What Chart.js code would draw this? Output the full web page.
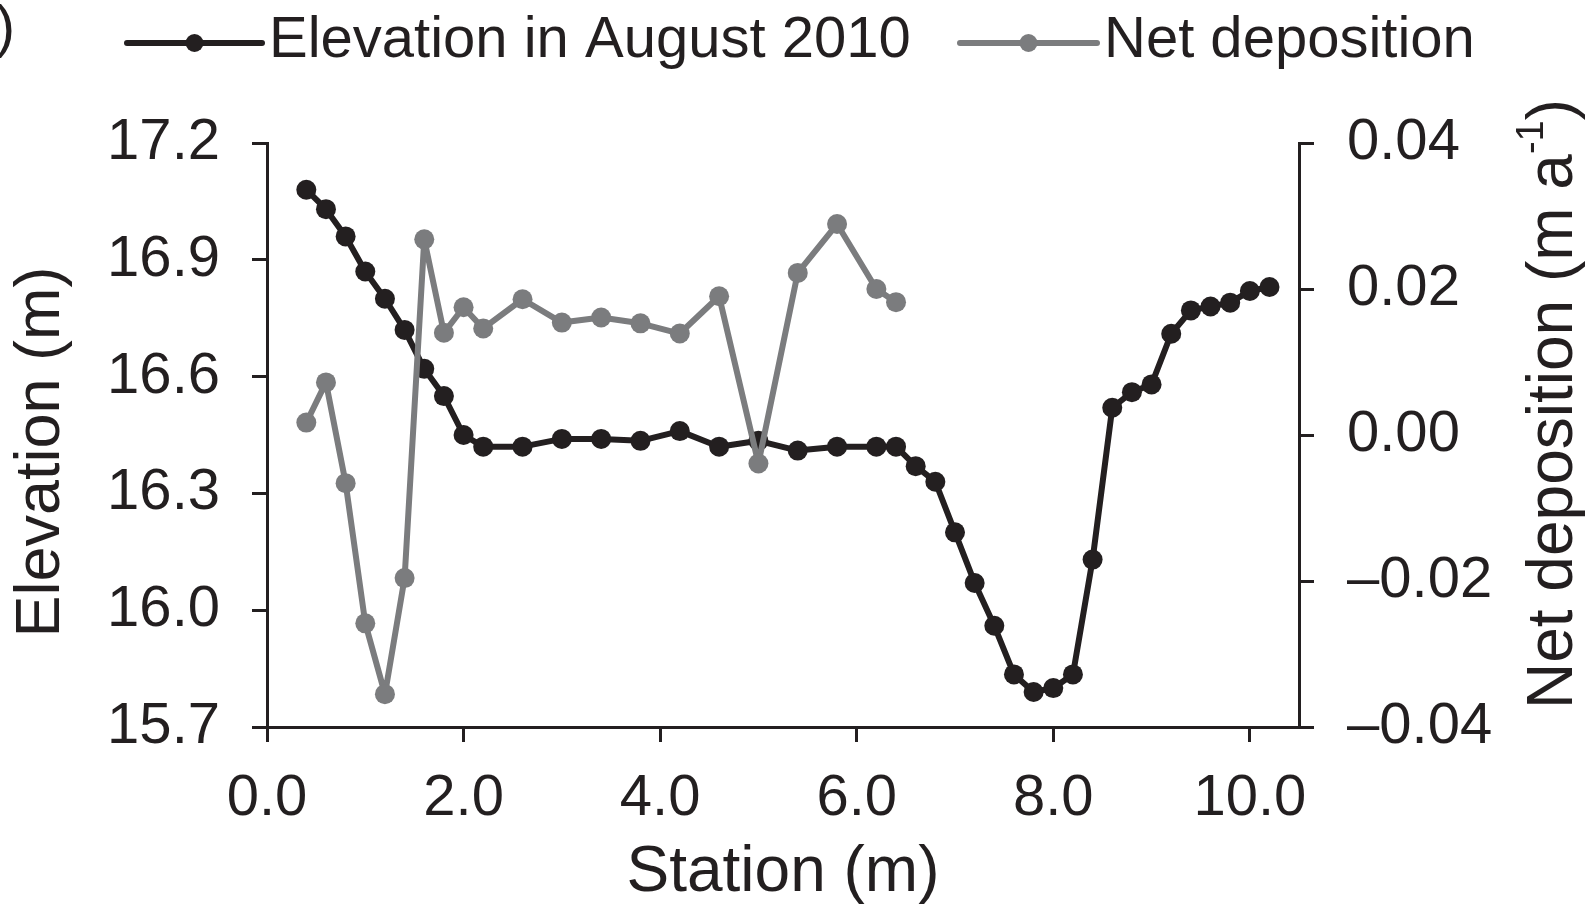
<!DOCTYPE html>
<html>
<head>
<meta charset="utf-8">
<script src="https://cdn.jsdelivr.net/npm/chart.js@4.4.0/dist/chart.umd.min.js"></script>
<style>
  html, body { margin: 0; padding: 0; background: #fff; }
</style>
</head>
<body>
<canvas id="myChart" width="1593" height="909"></canvas>
<script>
// profile stations (m)
const stations = [0.4, 0.6, 0.8, 1.0, 1.2, 1.4, 1.6, 1.8, 2.0, 2.2, 2.6, 3.0, 3.4, 3.8, 4.2, 4.6, 5.0, 5.4, 5.8, 6.2,
    6.4, 6.6, 6.8, 7.0, 7.2, 7.4, 7.6, 7.8, 8.0, 8.2, 8.4, 8.6, 8.8, 9.0, 9.2, 9.4, 9.6, 9.8, 10.0, 10.2];
// elevation in August 2010 (m)
const elevation = [17.08, 17.03, 16.96, 16.87, 16.80, 16.72, 16.62, 16.55, 16.45, 16.42, 16.42, 16.44, 16.44, 16.435,
    16.46, 16.42, 16.435, 16.41, 16.42, 16.42, 16.42, 16.37, 16.33, 16.20, 16.07, 15.96, 15.835, 15.79, 15.80, 15.835,
    16.13, 16.52, 16.56, 16.58, 16.71, 16.77, 16.78, 16.79, 16.82, 16.83];
// net deposition only measured up to 6.4 m
const depStations = [0.4, 0.6, 0.8, 1.0, 1.2, 1.4, 1.6, 1.8, 2.0, 2.2, 2.6, 3.0, 3.4, 3.8, 4.2, 4.6, 5.0, 5.4, 5.8, 6.2, 6.4];
const deposition = [0.0017, 0.0072, -0.0066, -0.0258, -0.0355, -0.0196, 0.0268, 0.0140, 0.0175, 0.0146, 0.0186,
    0.0154, 0.0161, 0.0153, 0.0139, 0.0190, -0.0039, 0.0222, 0.0289, 0.0200, 0.0182];

const xTicks = [0, 2, 4, 6, 8, 10];
const elevTicks = [15.7, 16.0, 16.3, 16.6, 16.9, 17.2];
const depTicks = [-0.04, -0.02, 0.00, 0.02, 0.04];

const ink = '#231f20';
const grey = '#7b7c7e';
const fam = '"Liberation Sans", Arial, sans-serif';

const axisGrid = { drawOnChartArea: false, drawTicks: true, tickLength: 15, color: ink, lineWidth: 3 };
const axisBorder = { display: true, color: ink, width: 3 };

// legend with line + dot, the odd ")" left from the panel label, vertical axis titles
const extras = {
    id: 'extras',
    afterDraw(chart) {
        const ctx = chart.ctx;
        ctx.save();
        ctx.fillStyle = ink;
        ctx.textBaseline = 'middle';
        ctx.font = '58px ' + fam;
        ctx.textAlign = 'right';
        ctx.fillText(')', 15, 30);

        const items = [
            { ds: chart.data.datasets[1], x0: 127, x1: 262 },
            { ds: chart.data.datasets[0], x0: 960, x1: 1097 }
        ];
        ctx.textAlign = 'left';
        items.forEach(it => {
            ctx.strokeStyle = it.ds.borderColor;
            ctx.lineWidth = 6;
            ctx.lineCap = 'round';
            ctx.beginPath();
            ctx.moveTo(it.x0, 43);
            ctx.lineTo(it.x1, 43);
            ctx.stroke();
            ctx.fillStyle = it.ds.borderColor;
            ctx.beginPath();
            ctx.arc((it.x0 + it.x1) / 2, 43, 9, 0, Math.PI * 2);
            ctx.fill();
            ctx.fillStyle = ink;
            ctx.fillText(it.ds.label, it.x1 + 7, 41);
        });

        // left axis title
        ctx.save();
        ctx.translate(42, 452);
        ctx.rotate(-Math.PI / 2);
        ctx.textAlign = 'center';
        ctx.font = '63px ' + fam;
        ctx.fillText('Elevation (m)', 0, 0);
        ctx.restore();

        // right axis title, reading bottom to top
        ctx.translate(1554, 404);
        ctx.rotate(-Math.PI / 2);
        ctx.textAlign = 'left';
        const main = 'Net deposition (m a';
        const sup = '-1';
        const close = ')';
        const bigFont = '64px ' + fam;
        const smallFont = '38px ' + fam;
        ctx.font = bigFont;
        const w1 = ctx.measureText(main).width;
        const w3 = ctx.measureText(close).width;
        ctx.font = smallFont;
        const w2 = ctx.measureText(sup).width;
        let x = -(w1 + w2 + w3) / 2;
        ctx.font = bigFont;
        ctx.fillText(main, x, 0);
        x += w1;
        ctx.font = smallFont;
        ctx.fillText(sup, x, -21);
        x += w2;
        ctx.font = bigFont;
        ctx.fillText(close, x, 0);
        ctx.restore();
    }
};

const ctx = document.getElementById('myChart');

new Chart(ctx, {
    type: 'line',
    data: {
        datasets: [{
            label: 'Net deposition',
            data: depStations.map((s, i) => ({ x: s, y: deposition[i] })),
            yAxisID: 'y2',
            borderColor: grey,
            backgroundColor: grey,
            borderWidth: 6,
            borderJoinStyle: 'round',
            borderCapStyle: 'round',
            pointRadius: 10,
            pointHoverRadius: 10,
            pointBorderWidth: 0,
            order: 0
        }, {
            label: 'Elevation in August 2010',
            data: stations.map((s, i) => ({ x: s, y: elevation[i] })),
            yAxisID: 'y',
            borderColor: ink,
            backgroundColor: ink,
            borderWidth: 6,
            borderJoinStyle: 'round',
            borderCapStyle: 'round',
            pointRadius: 10,
            pointHoverRadius: 10,
            pointBorderWidth: 0,
            order: 1
        }]
    },
    options: {
        responsive: false,
        animation: false,
        devicePixelRatio: 1,
        layout: { padding: { top: 143, left: 0, right: 0, bottom: 0 } },
        plugins: {
            legend: { display: false },
            tooltip: { enabled: false }
        },
        scales: {
            x: {
                type: 'linear',
                min: 0,
                max: 10.5,
                afterBuildTicks: s => { s.ticks = xTicks.map(v => ({ value: v })); },
                afterFit: s => { s.height = 182; },
                grid: axisGrid,
                border: axisBorder,
                ticks: {
                    color: ink,
                    padding: 22,
                    maxRotation: 0,
                    font: { family: fam, size: 58 },
                    callback: v => v.toFixed(1)
                },
                title: {
                    display: true,
                    text: 'Station (m)',
                    color: ink,
                    font: { family: fam, size: 64, lineHeight: 1.1 },
                    padding: { top: 0, bottom: 0 }
                }
            },
            y: {
                type: 'linear',
                position: 'left',
                min: 15.7,
                max: 17.2,
                afterBuildTicks: s => { s.ticks = elevTicks.map(v => ({ value: v })); },
                afterFit: s => { s.width = 267; },
                grid: axisGrid,
                border: axisBorder,
                ticks: {
                    color: ink,
                    padding: 32,
                    font: { family: fam, size: 58 },
                    callback: v => v.toFixed(1)
                }
            },
            y2: {
                type: 'linear',
                position: 'right',
                min: -0.04,
                max: 0.04,
                afterBuildTicks: s => { s.ticks = depTicks.map(v => ({ value: v })); },
                afterFit: s => { s.width = 294; },
                grid: axisGrid,
                border: axisBorder,
                ticks: {
                    color: ink,
                    padding: 33,
                    font: { family: fam, size: 58 },
                    callback: v => (v < 0 ? '\u2013' : '') + Math.abs(v).toFixed(2)
                }
            }
        }
    },
    plugins: [extras]
});
</script>
</body>
</html>
